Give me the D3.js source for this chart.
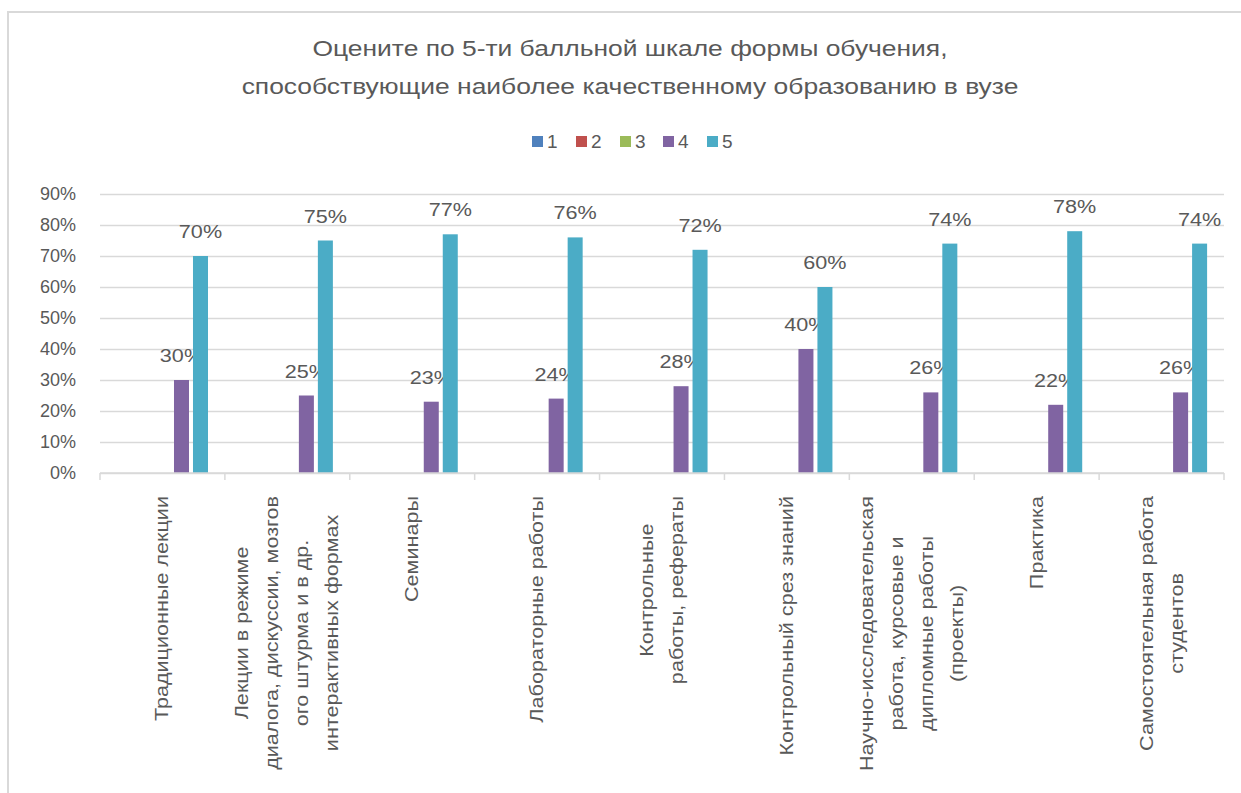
<!DOCTYPE html>
<html><head><meta charset="utf-8">
<script src="https://cdn.jsdelivr.net/npm/d3@7"></script>
<style>
html,body{margin:0;padding:0;background:#fff;}
svg text{font-family:"Liberation Sans",Arial,sans-serif;fill:#595959;}
</style></head>
<body>
<svg id="chart" width="1241" height="793"></svg>
<script>
const titleLines = ["Оцените по 5-ти балльной шкале формы обучения,", "способствующие наиболее качественному образованию в вузе"];
const categories = [
  ["Традиционные лекции"],
  ["Лекции в режиме", "диалога, дискуссии, мозгов", "ого штурма и в др.", "интерактивных формах"],
  ["Семинары"],
  ["Лабораторные работы"],
  ["Контрольные", "работы, рефераты"],
  ["Контрольный срез знаний"],
  ["Научно-исследовательская", "работа, курсовые и", "дипломные работы", "(проекты)"],
  ["Практика"],
  ["Самостоятельная работа", "студентов"]
];
const seriesNames = ["1", "2", "3", "4", "5"];
const seriesColors = ["#4f81bd", "#c0504d", "#9bbb59", "#8064a2", "#4bacc6"];
const s1 = [0, 0, 0, 0, 0, 0, 0, 0, 0];
const s2 = [0, 0, 0, 0, 0, 0, 0, 0, 0];
const s3 = [0, 0, 0, 0, 0, 0, 0, 0, 0];
const s4 = [0.30, 0.25, 0.23, 0.24, 0.28, 0.40, 0.26, 0.22, 0.26];
const s5 = [0.70, 0.75, 0.77, 0.76, 0.72, 0.60, 0.74, 0.78, 0.74];
const seriesValues = [s1, s2, s3, s4, s5];
const yTicks = [0, 0.1, 0.2, 0.3, 0.4, 0.5, 0.6, 0.7, 0.8, 0.9];

(function () {
const stretch = 1.2;
function widen(sel) {
  sel.each(function () {
    const w = this.getComputedTextLength();
    d3.select(this).attr("textLength", w * stretch).attr("lengthAdjust", "spacingAndGlyphs");
  });
  return sel;
}
const svg = d3.select("#chart");
svg.append("path").attr("d", "M8,793 V12 H1241").attr("fill", "none").attr("stroke", "#d9d9d9").attr("stroke-width", 2);

const pLeft = 100, pRight = 1224, pTop = 194, pBottom = 473;
const x0 = d3.scaleBand().domain(d3.range(categories.length)).range([pLeft, pRight]);
const bw = x0.bandwidth();
const x1 = d3.scaleBand().domain(seriesNames).range([17 / 124.9 * bw, 108 / 124.9 * bw]).paddingInner(0.21);
const y = d3.scaleLinear().domain([0, 0.9]).range([pBottom, pTop]);

widen(svg.append("g").selectAll("text").data(titleLines).join("text")
  .attr("x", 630).attr("y", (d, i) => 56 + i * 38)
  .attr("text-anchor", "middle").style("font-size", "22px").text(d => d));

const lg = svg.append("g");
const lx = [532, 576, 620, 663, 707];
seriesNames.forEach((n, i) => {
  lg.append("rect").attr("x", lx[i]).attr("y", 136).attr("width", 11).attr("height", 11).attr("fill", seriesColors[i]);
  lg.append("text").attr("x", lx[i] + 15).attr("y", 148).style("font-size", "19px").text(n);
});

const yAxis = d3.axisLeft(y).tickValues(yTicks).tickFormat(d3.format(".0%")).tickSize(-(pRight - pLeft)).tickPadding(24);
const ya = svg.append("g").attr("transform", `translate(${pLeft},0)`).call(yAxis);
ya.select(".domain").remove();
ya.selectAll(".tick line").attr("stroke", "#d9d9d9").attr("stroke-width", 1.3);
ya.selectAll(".tick text").style("font-size", "18px").attr("fill", "#595959").attr("font-family", null);

const groups = svg.append("g").selectAll("g").data(categories).join("g")
  .attr("transform", (d, i) => `translate(${x0(i)},0)`);
seriesNames.forEach((n, si) => {
  groups.append("rect")
    .attr("x", x1(n)).attr("width", x1.bandwidth())
    .attr("y", (d, i) => y(seriesValues[si][i]))
    .attr("height", (d, i) => pBottom - y(seriesValues[si][i]))
    .attr("fill", seriesColors[si]);
  widen(groups.filter((d, i) => seriesValues[si][i] > 0).append("text")
    .attr("x", x1(n) + x1.bandwidth() / 2)
    .attr("y", (d, i) => y(seriesValues[si][i]) - 18)
    .attr("text-anchor", "middle").style("font-size", "18px")
    .text((d, i) => d3.format(".0%")(seriesValues[si][i])));
});

const xa = svg.append("g");
xa.append("line").attr("x1", pLeft).attr("x2", pRight).attr("y1", pBottom).attr("y2", pBottom).attr("stroke", "#d9d9d9").attr("stroke-width", 1.5);
d3.range(categories.length + 1).forEach(i => {
  const xx = i < categories.length ? x0(i) : pRight;
  xa.append("line").attr("x1", xx).attr("x2", xx).attr("y1", pBottom).attr("y2", pBottom + 7).attr("stroke", "#d9d9d9").attr("stroke-width", 1.5);
});

const lineGap = 30;
categories.forEach((lines, ci) => {
  const cx = x0(ci) + bw / 2;
  const g = xa.append("g");
  const texts = lines.map(l => g.append("text").style("font-size", "18px").attr("text-anchor", "middle").text(l));
  const maxLen = d3.max(texts, t => t.node().getComputedTextLength()) * stretch;
  texts.forEach(t => widen(t));
  const center = 496 + maxLen / 2;
  texts.forEach((t, li) => {
    const xx = cx + (li - (lines.length - 1) / 2) * lineGap + 6;
    t.attr("transform", `translate(${xx},${center}) rotate(-90)`);
  });
});
})();
</script>
</body></html>
